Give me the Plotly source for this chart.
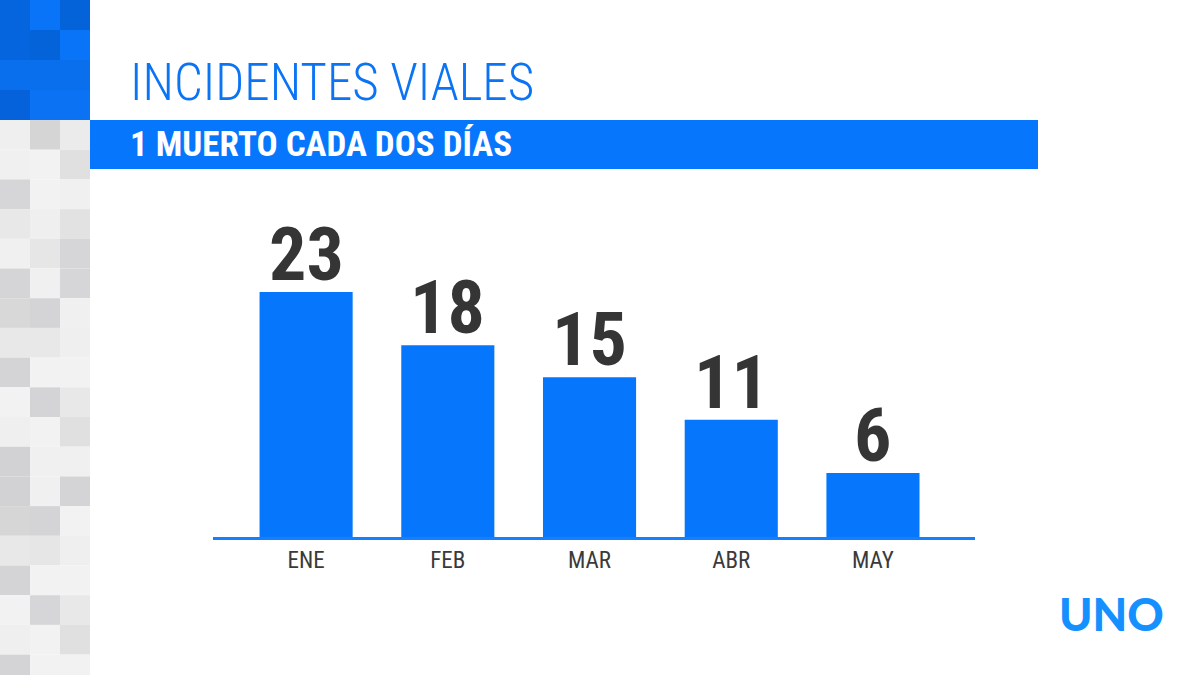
import plotly.graph_objects as go

# ---- data ----
months = ["ENE", "FEB", "MAR", "ABR", "MAY"]
deaths = [23, 18, 15, 11, 6]
title_text = "INCIDENTES VIALES"
subtitle_text = "1 MUERTO CADA DOS DÍAS"
logo_text = "UNO"

W, H = 1200, 675
BLUE = "#0677fd"
DARK = "#353535"
COND = "Roboto Condensed, Open Sans Condensed, sans-serif"

fig = go.Figure()
fig.add_trace(go.Bar(
    x=months, y=deaths,
    marker=dict(color=BLUE, line=dict(width=0)),
    hoverinfo="skip",
))

def px(x):
    return x / W

def py(y):
    return 1 - y / H

shapes = []
# decorative left strip: blue tiles on top, grey tiles below
blue_rows = [
    ["#0565de", "#0a74f8", "#0563da"],
    ["#0565de", "#0563da", "#0a74f8"],
    ["#0a6fec", "#0a6fec", "#0a6fec"],
    ["#0562da", "#0a72f3", "#0a72f3"],
]
grey_rows = [
    ["#efefef", "#d5d5d5", "#ebebeb"],
    ["#f0f0f0", "#f2f2f2", "#e0e0e0"],
    ["#d6d6d8", "#f2f2f2", "#f0f0f0"],
    ["#e8e8e8", "#efefef", "#e2e2e2"],
    ["#f0f0f0", "#e6e6e6", "#d6d6d8"],
    ["#d5d5d7", "#f0f0f0", "#d6d6d8"],
    ["#d8d8d8", "#d4d4d6", "#f0f0f0"],
    ["#e8e8e8", "#e8e8e8", "#efefef"],
    ["#d4d4d6", "#f2f2f2", "#f2f2f2"],
    ["#f2f2f2", "#d4d4d6", "#e8e8e8"],
    ["#efefef", "#f2f2f2", "#e0e0e0"],
    ["#d2d2d4", "#f0f0f0", "#f0f0f0"],
    ["#d2d2d4", "#f0f0f0", "#d4d4d6"],
    ["#d6d6d6", "#d4d4d6", "#f2f2f2"],
    ["#e8e8e8", "#e6e6e6", "#efefef"],
    ["#d4d4d6", "#f2f2f2", "#f2f2f2"],
    ["#f2f2f2", "#d6d6d8", "#e8e8e8"],
    ["#efefef", "#f2f2f2", "#e0e0e0"],
    ["#d4d4d6", "#f2f2f2", "#f2f2f2"],
]
tile = 30
for r, row in enumerate(blue_rows + grey_rows):
    y0 = r * tile if r < 4 else 120 + (r - 4) * 29.7
    y1 = y0 + (tile if r < 4 else 29.7)
    for c, col in enumerate(row):
        shapes.append(dict(type="rect", xref="paper", yref="paper",
                           x0=px(c * tile), x1=px((c + 1) * tile),
                           y0=py(min(y1, H)), y1=py(y0),
                           fillcolor=col, line=dict(width=0), layer="below"))
# subtitle band
shapes.append(dict(type="rect", xref="paper", yref="paper",
                   x0=px(90), x1=px(1038), y0=py(169), y1=py(120),
                   fillcolor=BLUE, line=dict(width=0), layer="below"))

annotations = [
    dict(text=title_text, xref="paper", yref="paper", x=px(128), y=py(82),
         xanchor="left", yanchor="middle", showarrow=False,
         font=dict(family=COND, size=51, color="#0a74f5", weight=300)),
    dict(text=subtitle_text, xref="paper", yref="paper", x=px(128), y=py(145),
         xanchor="left", yanchor="middle", showarrow=False,
         font=dict(family=COND, size=35, color="white", weight="bold")),
    dict(text=logo_text, xref="paper", yref="paper", x=px(1111), y=py(614),
         xanchor="center", yanchor="middle", showarrow=False,
         font=dict(family="Lato, Roboto, sans-serif", size=45, color="#1590ff", weight=900)),
]
# value labels above bars (anchored on the data)
for m, v in zip(months, deaths):
    annotations.append(dict(text=str(v), x=m, y=v, xref="x", yref="y",
                            xanchor="center", yanchor="bottom", showarrow=False,
                            yshift=-8,
                            font=dict(family=COND, size=74, color=DARK, weight="bold")))

fig.update_layout(
    width=W, height=H,
    margin=dict(l=0, r=0, t=0, b=0),
    paper_bgcolor="white", plot_bgcolor="white",
    showlegend=False, bargap=0.343,
    shapes=shapes, annotations=annotations,
    xaxis=dict(domain=[px(213), px(975)], range=[-0.657, 4.72],
               showline=True, linecolor="#1580ff", linewidth=3,
               showgrid=False, zeroline=False, ticks="",
               tickfont=dict(family=COND, size=23, color="#3a3a3a", weight=400),
               fixedrange=True),
    yaxis=dict(domain=[py(537), py(217.5)], range=[0, 30],
               visible=False, showgrid=False, zeroline=False, fixedrange=True),
)

fig.write_html("out.html", config={"displayModeBar": False},
               post_script="document.body.style.margin='0';")
